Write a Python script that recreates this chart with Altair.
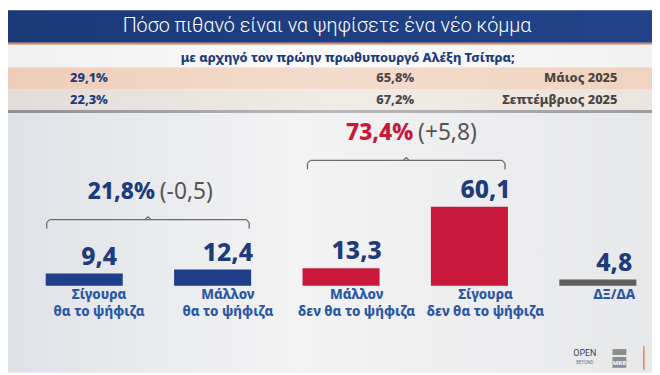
import altair as alt
import pandas as pd

# ---------------- data ----------------
categories = ["Σίγουρα θα το ψήφιζα", "Μάλλον θα το ψήφιζα", "Μάλλον δεν θα το ψήφιζα",
              "Σίγουρα δεν θα το ψήφιζα", "ΔΞ/ΔΑ"]
cat_line1 = ["Σίγουρα", "Μάλλον", "Μάλλον", "Σίγουρα", "ΔΞ/ΔΑ"]
cat_line2 = ["θα το ψήφιζα", "θα το ψήφιζα", "δεν θα το ψήφιζα", "δεν θα το ψήφιζα", ""]
values = [9.4, 12.4, 13.3, 60.1, 4.8]
groups = ["yes", "yes", "no", "no", "dk"]

survey_dates = ["Μάιος 2025", "Σεπτέμβριος 2025"]
survey_yes = ["29,1%", "22,3%"]
survey_no = ["65,8%", "67,2%"]

group_totals = ["21,8%", "73,4%"]
group_changes = ["(-0,5)", "(+5,8)"]

title_text = "Πόσο πιθανό είναι να ψηφίσετε ένα νέο κόμμα"
subtitle_text = "με αρχηγό τον πρώην πρωθυπουργό Αλέξη Τσίπρα;"

# ---------------- layout / style ----------------
W, H = 652, 367
FONT = "Noto Sans"
HEAVY = 800
NAVY = "#1e3c7b"
BLUE_BAR = "#1f3f88"
RED = "#c8193d"
GREY_BAR = "#5e5e5e"
CAT_BLUE = "#2b58a5"
PAREN = "#555555"

pad_inner, pad_outer, band_align = 0.4, 0.2077, 0.707
step = W / (len(categories) - pad_inner + 2 * pad_outer)
start = (W - step * (len(categories) - pad_inner)) * band_align
bw = step * (1 - pad_inner)
lefts = [start + i * step for i in range(len(categories))]

x_scale = alt.Scale(domain=categories, paddingInner=pad_inner, paddingOuter=pad_outer, align=band_align)
y_scale = alt.Scale(domain=[-66.1, 209.6], nice=False, zero=False)

one = pd.DataFrame({"k": [0]})


def rect(x0, x1, y0, y1, color):
    return alt.Chart(one).mark_rect(color=color).encode(
        x=alt.value(x0), x2=alt.value(x1), y=alt.value(y0), y2=alt.value(y1))


def label(txt, x, y, size, color, weight="normal", align="center", baseline="middle",
          font=FONT):
    return alt.Chart(one).mark_text(text=txt, fontSize=size, color=color, fontWeight=weight,
                                    align=align, baseline=baseline, font=font).encode(
        x=alt.value(x), y=alt.value(y))


def grad(stops, horizontal=True):
    return alt.LinearGradient(
        gradient="linear",
        stops=[alt.GradientStop(color=c, offset=o) for o, c in stops],
        x1=0, x2=1 if horizontal else 0, y1=0, y2=0 if horizontal else 1)


# background
layers = [
    rect(0, W, 0, H, grad([(0, "#dfe2e7"), (0.45, "#f3f3f4"), (1, "#e7e8ea")])),
    rect(0, W, 0, 33, grad([(0, "#1c3a78"), (1, "#22438a")])),
    rect(0, W, 33, 35, "#e5844f"),
    rect(0, W, 35, 58, grad([(0, "#f1f1f1"), (0.5, "#fbfbfb"), (1, "#f1f1f1")])),
    rect(0, W, 58, 80, grad([(0, "#eecdb8"), (0.5, "#f3dccd"), (1, "#f0d3c0")])),
    rect(0, W, 80, 101, grad([(0, "#e3dcd8"), (0.5, "#f1ebe6"), (1, "#ece4de")])),
    rect(0, W, 101, 104, grad([(0, "#8d8f94"), (0.5, "#b9babd"), (1, "#9a9ca0")])),
    label(title_text, 323, 16, 20, "white", weight=300, font="Roboto"),
    label(subtitle_text, 344, 48, 13, NAVY, weight=HEAVY),
]

# survey rows
rows = pd.DataFrame({"date": survey_dates, "yes": survey_yes, "no": survey_no})
row_y = alt.Y("date:N", scale=alt.Scale(type="point", domain=survey_dates, range=[69, 91], padding=0),
              axis=None)
layers += [
    alt.Chart(rows).mark_text(fontSize=13, fontWeight=HEAVY, color=NAVY, font=FONT,
                              baseline="middle").encode(x=alt.value(82), y=row_y, text="yes:N"),
    alt.Chart(rows).mark_text(fontSize=13, fontWeight=HEAVY, color="#4d4846", font=FONT,
                              baseline="middle").encode(x=alt.value(392), y=row_y, text="no:N"),
    alt.Chart(rows).mark_text(fontSize=13, fontWeight=HEAVY, color="#4a4542", font=FONT,
                              align="right", baseline="middle").encode(x=alt.value(617), y=row_y,
                                                                      text="date:N"),
]

# bars
bars = pd.DataFrame({
    "cat": categories,
    "value": values,
    "group": groups,
    "label": [f"{v:.1f}".replace(".", ",") for v in values],
    "catlabel": [a + "\n" + b for a, b in zip(cat_line1, cat_line2)],
})
xenc = alt.X("cat:N", scale=x_scale, axis=None, sort=categories)
layers += [
    alt.Chart(bars).mark_bar().encode(
        x=xenc,
        y=alt.Y("value:Q", scale=y_scale, axis=None),
        y2=alt.datum(0),
        color=alt.Color("group:N", scale=alt.Scale(domain=["yes", "no", "dk"],
                                                   range=[BLUE_BAR, RED, GREY_BAR]), legend=None),
    ),
    alt.Chart(bars).mark_text(fontSize=25, fontWeight=HEAVY, color=NAVY, font=FONT,
                              baseline="alphabetic", dy=-9).encode(
        x=xenc, y=alt.Y("value:Q", scale=y_scale, axis=None), text="label:N"),
    alt.Chart(bars).mark_text(fontSize=13.5, fontWeight=HEAVY, color=CAT_BLUE, font=FONT,
                              baseline="top", lineBreak="\n", lineHeight=18).encode(
        x=xenc, y=alt.value(281), text="catlabel:N"),
]

# brackets
brackets = [
    (lefts[0] + 1, lefts[1] + bw - 2, 212, group_totals[0], group_changes[0], NAVY),
    (lefts[2] + 5, lefts[3] + bw - 3, 152, group_totals[1], group_changes[1], RED),
]
segs = []
for x0, x1, yb, tot, chg, col in brackets:
    c = (x0 + x1) / 2
    segs += [
        (x0 + 3, yb, x1 - 3, yb),
        (x0, yb + 3, x0 + 3, yb), (x0, yb + 3, x0, yb + 9),
        (x1 - 3, yb, x1, yb + 3), (x1, yb + 3, x1, yb + 9),
        (c - 3, yb, c, yb - 3), (c, yb - 3, c + 3, yb),
    ]
    layers += [
        label(tot, c + 7, yb - 28, 23, col, weight=HEAVY, align="right"),
        label(chg, c + 12, yb - 28, 23, PAREN, align="left"),
    ]
seg_df = pd.DataFrame(segs, columns=["xa", "ya", "xb", "yb"])
layers.append(
    alt.Chart(seg_df).mark_rule(color="#6b6b6b", strokeWidth=1.3).encode(
        x=alt.X("xa:Q", scale=None), y=alt.Y("ya:Q", scale=None),
        x2="xb:Q", y2="yb:Q"))

# logos
layers += [
    label("OPEN", 584, 347, 9, "#33435f", font="Roboto"),
    label("BEYOND", 584, 357, 4.5, "#6a7283", font="Roboto"),
    rect(612, 626, 343, 349, "#8d8d8d"),
    rect(612, 626, 351, 362, "#8d8d8d"),
    label("MRB", 619, 357, 6, "white", weight="bold"),
    rect(643, 644.5, 340, 364, "#e5844f"),
]

chart = alt.layer(*layers).resolve_scale(x="independent", y="independent", color="independent").properties(
    width=W, height=H, padding=0,
    autosize=alt.AutoSizeParams(type="fit", contains="padding"),
).configure_view(stroke=None)

chart.save("out.html", embed_options={"renderer": "svg", "actions": False})
